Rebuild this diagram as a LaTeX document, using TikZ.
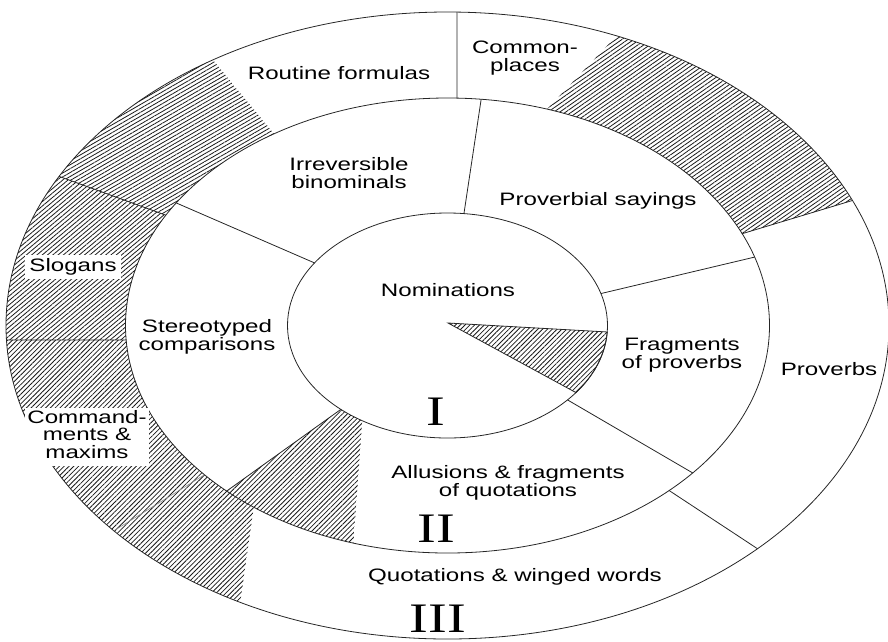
\documentclass[tikz,border=0pt]{standalone}
\usepackage{fontspec}
\setmainfont{Liberation Sans}
\newfontfamily\romfont{Liberation Serif}
\usetikzlibrary{patterns.meta}
\newcommand\hs[1]{\scalebox{1.34}[1]{\begin{tabular}[t]{@{}c@{}}#1\end{tabular}}}
\begin{document}
\begin{tikzpicture}[x=1pt,y=-1pt,
  declare function={ox(\t)=447.5+441.5*cos(\t); oy(\t)=325.5+313.5*sin(\t);
    mx(\t)=447.5+322*cos(\t); my(\t)=325.5+227.5*sin(\t);
    ix(\t)=447.5+160*cos(\t); iy(\t)=325.5+112.5*sin(\t);},
  sepline/.style={draw=black!85,line width=0.8pt},
  hatchfill/.style={pattern={Lines[angle=#1,distance=3.4pt,line width=0.8pt]},pattern color=black!90},
  lbl/.style={font=\fontsize{18}{16.8}\selectfont,inner sep=0pt,anchor=base},
  rom/.style={font=\romfont\fontsize{42}{42}\selectfont,inner sep=0pt,anchor=base},
  ]
\useasboundingbox (0,0) rectangle (888,641);

% ---- hatched regions ----
% outer ring, top right
\fill[hatchfill=35] ({ox(-67.5)},{oy(-67.5)}) arc[start angle=-67.5,end angle=-23.5,x radius=441.5,y radius=313.5]
   -- ({mx(-23.8)},{my(-23.8)}) arc[start angle=-23.8,end angle=-72,x radius=322,y radius=227.5] -- cycle;
% outer ring, left: top part
\fill[hatchfill=30] ({ox(208.4)},{oy(208.4)}) arc[start angle=208.4,end angle=237.9,x radius=441.5,y radius=313.5]
   -- ({mx(237.4)},{my(237.4)}) arc[start angle=237.4,end angle=209,x radius=322,y radius=227.5] -- cycle;
% slogans part
\fill[hatchfill=40] ({ox(177.35)},{oy(177.35)}) arc[start angle=177.35,end angle=208.4,x radius=441.5,y radius=313.5]
   -- ({mx(209)},{my(209)}) arc[start angle=209,end angle=176.35,x radius=322,y radius=227.5] -- cycle;
% commandments part
\fill[hatchfill=45] ({ox(139.1)},{oy(139.1)}) arc[start angle=139.1,end angle=177.35,x radius=441.5,y radius=313.5]
   -- ({mx(176.35)},{my(176.35)}) arc[start angle=176.35,end angle=139,x radius=322,y radius=227.5] -- cycle;
% bottom part
\fill[hatchfill=45] ({ox(118)},{oy(118)}) arc[start angle=118,end angle=139.1,x radius=441.5,y radius=313.5]
   -- ({mx(139)},{my(139)}) arc[start angle=139,end angle=127,x radius=322,y radius=227.5] -- cycle;
% middle ring, lower left
\fill[hatchfill=45] ({ix(122.2)},{iy(122.2)}) arc[start angle=122.2,end angle=131.8,x radius=160,y radius=112.5]
   -- ({mx(133.3)},{my(133.3)}) arc[start angle=133.3,end angle=107,x radius=322,y radius=227.5] -- cycle;
% inner wedge
\filldraw[hatchfill=45,sepline] (448,323) -- ({ix(3.3)},{iy(3.3)}) arc[start angle=3.3,end angle=36.6,x radius=160,y radius=112.5] -- cycle;

% ---- ellipses ----
\draw[sepline] (447.5,325.5) ellipse [x radius=441.5,y radius=313.5];
\draw[sepline] (447.5,325.5) ellipse [x radius=322,y radius=227.5];
\draw[sepline] (447.5,325.5) ellipse [x radius=160,y radius=112.5];

% ---- dividing lines ----
\draw[sepline] ({ox(-88.77)},{oy(-88.77)}) -- ({mx(-88.31)},{my(-88.31)});
\draw[sepline] ({mx(-84)},{my(-84)}) -- ({ix(-84.1)},{iy(-84.1)});
\draw[sepline] ({ix(-16.5)},{iy(-16.5)}) -- ({mx(-17.5)},{my(-17.5)});
\draw[sepline] ({mx(-23.8)},{my(-23.8)}) -- ({ox(-23.5)},{oy(-23.5)});
\draw[sepline] ({ox(-151.6)},{oy(-151.6)}) -- ({mx(-151)},{my(-151)});
\draw[sepline] ({mx(-147.4)},{my(-147.4)}) -- ({ix(-146.2)},{iy(-146.2)});
\draw[sepline] ({ox(177.35)},{oy(177.35)}) -- ({mx(176.35)},{my(176.35)});
\draw[sepline] ({ix(131.8)},{iy(131.8)}) -- ({mx(133.3)},{my(133.3)});
\draw[draw=black!45,line width=0.6pt] ({mx(139)},{my(139)}) -- ({ox(139.1)},{oy(139.1)});
\draw[sepline] ({ix(41.4)},{iy(41.4)}) -- ({mx(40.4)},{my(40.4)});
\draw[sepline] ({mx(46.5)},{my(46.5)}) -- ({ox(45.4)},{oy(45.4)});

% ---- labels ----
\node[lbl] (routine) at (339,79) {\hs{Routine formulas}};
\node[lbl] (common) at (525,53) {\hs{Common-\\places}};
\node[lbl] (irrev) at (349,170) {\hs{Irreversible\\binominals}};
\node[lbl] (provsay) at (598,205) {\hs{Proverbial sayings}};
\node[lbl] (nomin) at (448,296) {\hs{Nominations}};
\node[lbl] (stereo) at (207,332) {\hs{Stereotyped\\comparisons}};
\node[lbl,fill=white,inner xsep=4pt,inner ysep=3pt] (slogans) at (73,271) {\hs{Slogans}};
\node[lbl,fill=white,inner sep=2pt] (command) at (87,423) {\hs{Command-\\ments \&\\maxims}};
\node[lbl] (fragprov) at (682,350) {\hs{Fragments\\of proverbs}};
\node[lbl] (proverbs) at (829,375) {\hs{Proverbs}};
\node[lbl] (allus) at (508,478) {\hs{Allusions \& fragments\\of quotations}};
\node[lbl] (quot) at (515,581) {\hs{Quotations \& winged words}};
\node[rom] (romI) at (436,425) {\scalebox{1.34}[1]{I}};
\node[rom] (romII) at (436,542) {\scalebox{1.34}[1]{II}};
\node[rom] (romIII) at (438,632) {\scalebox{1.34}[1]{III}};
\end{tikzpicture}
\end{document}
